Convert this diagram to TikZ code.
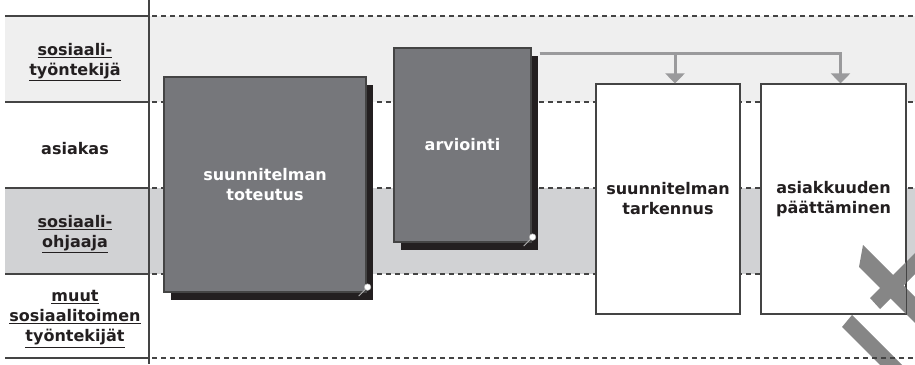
\documentclass[tikz,border=0pt]{standalone}
\usepackage{fontspec}
\setmainfont{DejaVu Sans}
\usetikzlibrary{arrows.meta,shadows}
\definecolor{bandA}{HTML}{EFEFEF}
\definecolor{bandB}{HTML}{D1D2D4}
\definecolor{boxgray}{HTML}{76777B}
\definecolor{shadowc}{HTML}{231F20}
\definecolor{linec}{HTML}{444444}
\definecolor{arrowc}{HTML}{9A9A9C}
\definecolor{crossc}{HTML}{868686}
\definecolor{txt}{HTML}{231F20}
\definecolor{pinc}{HTML}{B0B0B0}
\begin{document}
\begin{tikzpicture}[x=1pt,y=-1pt,
  txtfont/.style={font=\bfseries\fontsize{16}{20}\selectfont},
  lbl/.style={txtfont, text=txt, align=center, inner sep=0pt},
  darkbox/.style={draw=linec, line width=1.2pt, fill=boxgray, inner sep=0pt,
     text=white, txtfont, align=center,
     drop shadow={shadow xshift=7pt, shadow yshift=-8pt, fill=shadowc, opacity=1}},
  whitebox/.style={draw=linec, line width=1.2pt, fill=white, inner sep=0pt,
     text=txt, txtfont, align=center},
  solidrule/.style={draw=linec, line width=1.3pt},
  dashrule/.style={draw=linec, line width=1.3pt, dash pattern=on 5pt off 4pt},
  conn/.style={draw=arrowc, line width=3pt, -{Triangle[width=19pt,length=10pt]}},
  crossshape/.style={fill=crossc},
  pinline/.style={draw=pinc, line width=0.9pt},
]
\useasboundingbox (0,0) rectangle (915,364);
\fill[white] (0,0) rectangle (915,364);
% bands
\fill[bandA] (5,16) rectangle (915,102);
\fill[bandB] (5,188) rectangle (915,274);
% rules
\foreach \yy in {16,102,188,274,358}{
  \draw[solidrule] (5,\yy) -- (149,\yy);
  \draw[dashrule] (152,\yy) -- (915,\yy);
}
\draw[linec, line width=1.3pt] (149,0) -- (149,364);
% left labels
\node[lbl] (l1) at (75,62) {\underline{sosiaali-}\\\underline{työntekijä}};
\node[lbl] (l2) at (75,149) {asiakas};
\node[lbl] (l3) at (75,234) {\underline{sosiaali-}\\\underline{ohjaaja}};
\node[lbl] (l4) at (75,319) {\underline{muut}\\\underline{sosiaalitoimen}\\\underline{työntekijät}};
% boxes
\node[darkbox, minimum width=202pt, minimum height=215pt] (a1) at (265,184.5) {suunnitelman\\toteutus};
\node[darkbox, minimum width=137pt, minimum height=194pt] (a2) at (462.5,145) {arviointi};
\node[whitebox, minimum width=144pt, minimum height=230pt] (b3) at (668,199) {suunnitelman\\tarkennus};
\node[whitebox, minimum width=145pt, minimum height=230pt] (b4) at (833.5,199) {asiakkuuden\\päättäminen};
% pins
\foreach \n in {a1,a2}{
  \coordinate (\n pin) at ([shift={(1,-5.5)}]\n.south east);
  \draw[pinline] (\n pin) -- ++(-9,9);
  \fill[white, draw=pinc, line width=0.5pt] (\n pin) circle (3.3pt);
}
% connectors
\coordinate (cstart) at ([shift={(8,6)}]a2.north east);
\draw[conn] (cstart) -| ([xshift=7]b3.north);
\draw[conn] (cstart) -| ([xshift=7]b4.north);
% cross mark
\begin{scope}
\clip (0,0) rectangle (915,364);
\fill[crossshape] (863,245) -- (943,325) -- (939,347) -- (859,267) -- cycle;
\fill[crossshape] (870,298) -- (930,238) -- (940,249) -- (880,309) -- cycle;
\fill[crossshape] (852,315) -- (912,375) -- (902,387) -- (842,327) -- cycle;
\end{scope}
\draw[linec, line width=1.2pt] (b4.north west) rectangle (b4.south east);
\draw[dashrule] (152,358) -- (915,358);
\end{tikzpicture}
\end{document}
